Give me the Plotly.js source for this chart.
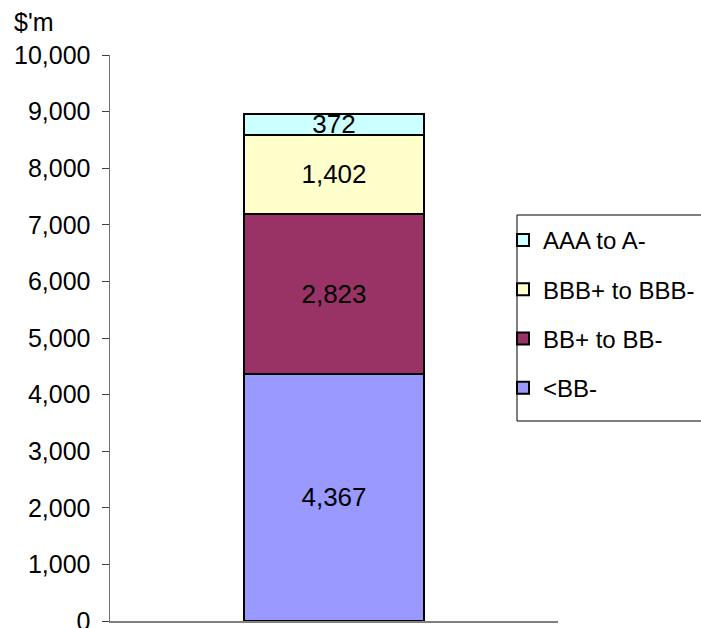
<!DOCTYPE html>
<html>
<head>
<meta charset="utf-8">
<script src="https://cdn.plot.ly/plotly-3.0.1.min.js"></script>
<style>html,body{margin:0;padding:0;background:#fff;}#chart{width:701px;height:628px;}</style>
</head>
<body>
<div id="chart"></div>
<script>
const category = ["Total"];
const seriesNames = ["<BB-", "BB+ to BB-", "BBB+ to BBB-", "AAA to A-"];
const valuesLtBB = [4367];
const valuesBB = [2823];
const valuesBBB = [1402];
const valuesAAA = [372];
const seriesColors = ["#9999FF", "#993366", "#FFFFCC", "#CCFFFF"];
const yTickVals = [0,1000,2000,3000,4000,5000,6000,7000,8000,9000,10000];

const seriesValues = [valuesLtBB, valuesBB, valuesBBB, valuesAAA];
const FONT = "Liberation Sans, Arial, sans-serif";

const traces = seriesValues.map((vals, i) => ({
  type: "bar",
  name: seriesNames[i],
  x: category,
  y: vals,
  width: 0.4,
  legendgroup: "g" + i,
  legendrank: 1000 - i,
  marker: {color: seriesColors[i], line: {color: "#000", width: 2}},
  texttemplate: "%{y:,}",
  textposition: "inside",
  insidetextanchor: "middle",
  textangle: 0,
  constraintext: "none",
  textfont: {family: FONT, size: 26, color: "#000"},
  hoverinfo: "none"
}));

const W = 701, H = 628, L = 110, R = 143, T = 55, B = 7;
const pw = W - L - R, ph = H - T - B;
const px = v => (v - L) / pw;
const py = v => (H - B - v) / ph;

const layout = {
  width: W, height: H,
  margin: {l: L, r: R, t: T, b: B, autoexpand: false},
  paper_bgcolor: "#fff", plot_bgcolor: "#fff",
  barmode: "stack",
  showlegend: true,
  font: {family: FONT, color: "#000"},
  xaxis: {range: [-0.5, 0.5], showticklabels: false, ticks: "", showgrid: false, zeroline: false,
          showline: true, linecolor: "#808080", linewidth: 2, fixedrange: true},
  yaxis: {range: [0, 10000], tickvals: yTickVals, tickformat: ",d", ticks: "outside", ticklen: 7,
          tickcolor: "#404040", tickwidth: 1, showline: true, linecolor: "#707070", linewidth: 1.5,
          showgrid: false, zeroline: false, ticklabelstandoff: 6, ticklabeloverflow: "allow",
          tickfont: {family: FONT, size: 25, color: "#000"}, fixedrange: true},
  legend: {x: px(503), xanchor: "left", y: py(218), yanchor: "top",
           traceorder: "grouped", tracegroupgap: 15,
           font: {family: FONT, size: 24, color: "#000"},
           bgcolor: "rgba(0,0,0,0)", borderwidth: 0, itemclick: false},
  shapes: [{type: "rect", xref: "paper", yref: "paper", x0: px(517), x1: px(705), y0: py(421), y1: py(215),
            line: {color: "#000", width: 1}, fillcolor: "rgba(0,0,0,0)", layer: "below"}],
  annotations: [{text: "$'m", xref: "paper", yref: "paper", x: px(12), y: py(22), xanchor: "left",
                 yanchor: "middle", showarrow: false, font: {family: FONT, size: 25, color: "#000"}}]
};

Plotly.newPlot("chart", traces, layout, {displayModeBar: false, staticPlot: true});
</script>
</body>
</html>
